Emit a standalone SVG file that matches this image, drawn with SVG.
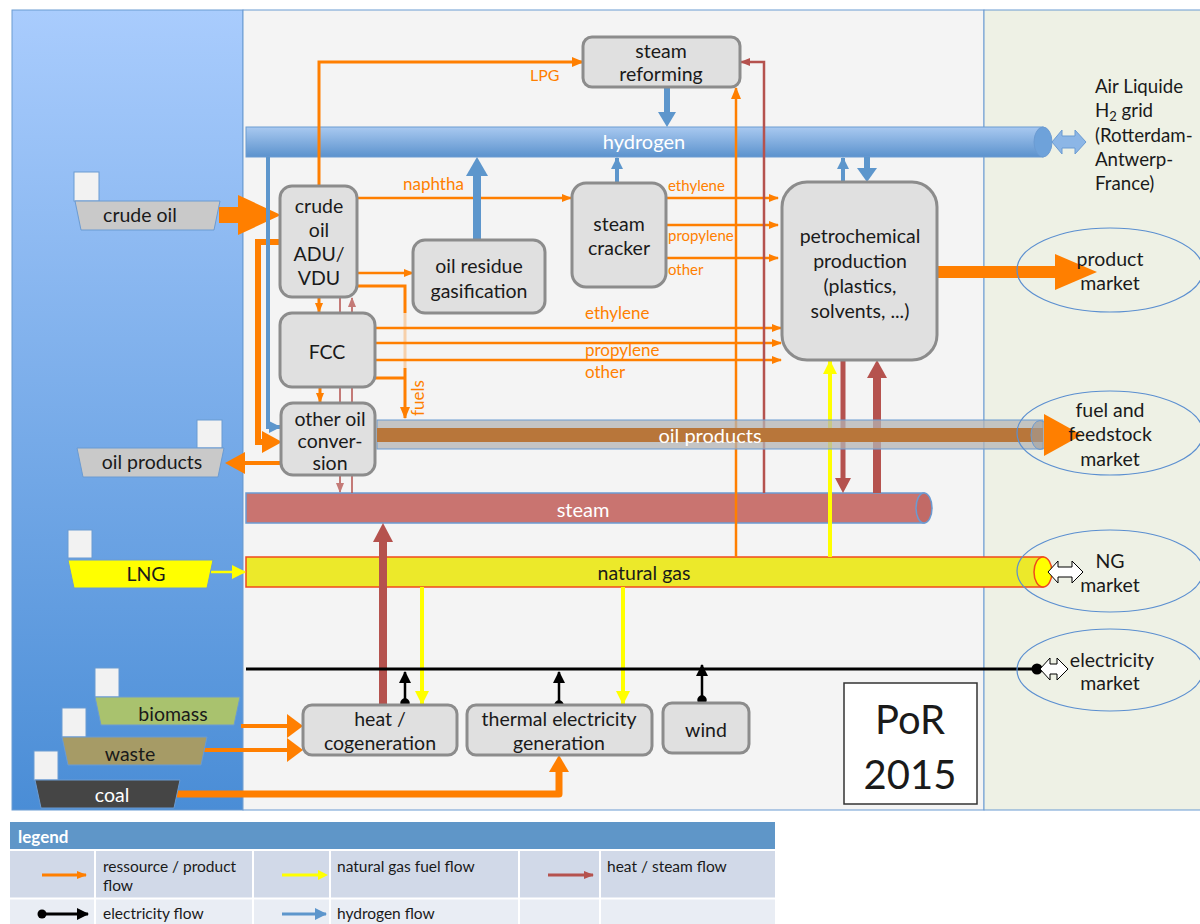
<svg xmlns="http://www.w3.org/2000/svg" width="1200" height="924" viewBox="0 0 1200 924">
<defs>
<linearGradient id="gLeft" x1="0" y1="0" x2="0" y2="1"><stop offset="0" stop-color="#a9ccfd"/><stop offset="1" stop-color="#4a8dd6"/></linearGradient>
<linearGradient id="gH2" x1="0" y1="0" x2="0" y2="1"><stop offset="0" stop-color="#a9c9f0"/><stop offset="1" stop-color="#5b92cd"/></linearGradient>
<marker id="aO" markerUnits="userSpaceOnUse" markerWidth="12" markerHeight="10" viewBox="0 0 12 10" refX="11" refY="5" orient="auto"><path d="M0,0 L12,5 L0,10 z" fill="#ff7f00"/></marker>
<marker id="aOs" markerUnits="userSpaceOnUse" markerWidth="10" markerHeight="8" viewBox="0 0 10 8" refX="9" refY="4" orient="auto"><path d="M0,0 L10,4 L0,8 z" fill="#ff7f00"/></marker>
<marker id="aY" markerUnits="userSpaceOnUse" markerWidth="14" markerHeight="14" viewBox="0 0 14 14" refX="13" refY="7" orient="auto"><path d="M0,0 L14,7 L0,14 z" fill="#ffff00"/></marker>
<marker id="aR" markerUnits="userSpaceOnUse" markerWidth="10" markerHeight="8" viewBox="0 0 10 8" refX="9" refY="4" orient="auto"><path d="M0,0 L10,4 L0,8 z" fill="#b5524e"/></marker>
<marker id="aK" markerUnits="userSpaceOnUse" markerWidth="12" markerHeight="12" viewBox="0 0 12 12" refX="11" refY="6" orient="auto"><path d="M0,0 L12,6 L0,12 z" fill="#000"/></marker>
<marker id="aB" markerUnits="userSpaceOnUse" markerWidth="12" markerHeight="12" viewBox="0 0 12 12" refX="11" refY="6" orient="auto"><path d="M0,0 L12,6 L0,12 z" fill="#5d96cc"/></marker>
<style>
text{font-family:Lato,"Liberation Sans",sans-serif;fill:#1a1a1a;}
.n{font-size:19.5px;text-anchor:middle;}
.box{fill:#e0e0e0;stroke:#8c8c8c;stroke-width:3;}
.sq{fill:#f2f2f2;stroke:#6b9bd2;stroke-width:1;}
.ship{stroke:#6b9bd2;stroke-width:1;}
.o{stroke:#ff7f00;fill:none;}
.lab{fill:#ff7f00;font-size:17px;}
.labs{fill:#ff7f00;font-size:15px;}
.mk{fill:none;stroke:#5b8fd0;stroke-width:1.2;}
.wt{fill:#ffffff;text-anchor:middle;font-size:20px;}
.lg{font-size:15.5px;}
.big{font-size:40px;text-anchor:middle;}
.al{font-size:18.7px;}
</style>
</defs>
<!-- panels -->
<g id="panels">
<rect x="12" y="10" width="231" height="800" fill="url(#gLeft)" stroke="#6b9bd2"/>
<rect x="243" y="10" width="741" height="800" fill="#f4f4f4" stroke="#6b9bd2"/>
<rect x="984" y="10" width="230" height="800" fill="#eef1e5" stroke="#6b9bd2"/>
</g>
<!-- pipes -->
<g id="pipe-hydrogen">
<rect x="246" y="127" width="797" height="30" fill="url(#gH2)" stroke="#6b9bd2"/>
<ellipse cx="1043" cy="142" rx="9" ry="15" fill="#6ea2da" stroke="#6b9bd2"/>
<polygon points="1052,142 1062,130 1062,136 1075,136 1075,130 1086,142 1075,154 1075,148 1062,148 1062,154" fill="#8cb6e6" stroke="#6b9bd2"/>
<text x="644" y="149" class="wt">hydrogen</text>
</g>
<g id="pipe-steam">
<rect x="246" y="493" width="678" height="30" fill="#c97470" stroke="#6b9bd2" stroke-width="1.5"/>
<ellipse cx="924" cy="508" rx="8" ry="15" fill="#c26a66" stroke="#6b9bd2" stroke-width="1.5"/>
<text x="583" y="517" class="wt">steam</text>
</g>
<g id="pipe-natural-gas">
<rect x="246" y="557" width="797" height="30" fill="#ece92a" stroke="#f04a1c" stroke-width="1.5"/>
<ellipse cx="1043" cy="572" rx="9" ry="15" fill="#ffff00" stroke="#f04a1c" stroke-width="1.5"/>
<polygon points="1048,572 1058,561 1058,567 1072,567 1072,561 1083,572 1072,583 1072,577 1058,577 1058,583" fill="#ffffff" stroke="#000" stroke-width="1"/>
<text x="644" y="580" class="n">natural gas</text>
</g>
<!-- connectors -->
<g id="connectors">
<path class="o" stroke-width="3" d="M319,187 V62 H583" marker-end="url(#aO)"/>
<rect x="219" y="207" width="22" height="16" fill="#ff7f00"/>
<polygon points="238,195 281,215 238,235" fill="#ff7f00"/>
<path class="o" stroke-width="6" d="M280,242 H258 V442 H264"/>
<polygon points="262,431 282,442 262,453" fill="#ff7f00"/>
<path d="M268,157 V427 H280" stroke="#5d96cc" stroke-width="4" fill="none" marker-end="url(#aB)"/>
<path class="o" stroke-width="3" d="M319,297 V312" marker-end="url(#aOs)"/>
<path class="o" stroke-width="3" d="M320,387 V402" marker-end="url(#aOs)"/>
<path class="o" stroke-width="2.5" d="M357,198 H571" marker-end="url(#aOs)"/>
<path class="o" stroke-width="2.5" d="M357,273 H413" marker-end="url(#aOs)"/>
<path class="o" stroke-width="3" d="M357,286 H405 V313"/>
<path class="o" stroke-width="3" d="M405,313 V368" opacity="0.3"/>
<path class="o" stroke-width="3" d="M405,368 V418" marker-end="url(#aO)"/>
<path class="o" stroke-width="3" d="M375,378 H405"/>
<path class="o" stroke-width="2.5" d="M375,328 H781" marker-end="url(#aOs)"/>
<path class="o" stroke-width="2.5" d="M375,343 H781" marker-end="url(#aOs)"/>
<path class="o" stroke-width="2.5" d="M375,360 H781" marker-end="url(#aOs)"/>
<path class="o" stroke-width="2.5" d="M666,198 H778" marker-end="url(#aOs)"/>
<path class="o" stroke-width="2.5" d="M660,225 H778" marker-end="url(#aOs)"/>
<path class="o" stroke-width="2.5" d="M666,258 H778" marker-end="url(#aOs)"/>
<path class="o" stroke-width="2.5" d="M736,557 V88" marker-end="url(#aO)"/>
<path d="M764,493 V62 H741" stroke="#b5524e" stroke-width="2.5" fill="none" marker-end="url(#aR)"/>
<path d="M667,88 V114" stroke="#5d96cc" stroke-width="6" fill="none"/>
<polygon points="658,112 676,112 667,127" fill="#5d96cc"/>
<rect x="473" y="172" width="8" height="68" fill="#5d96cc"/>
<polygon points="466,176 488,176 477,157" fill="#5d96cc"/>
<path d="M617,183 V158" stroke="#5d96cc" stroke-width="4" fill="none" marker-end="url(#aB)"/>
<path d="M843,182 V158" stroke="#5d96cc" stroke-width="4" fill="none" marker-end="url(#aB)"/>
<path d="M867,157 V170" stroke="#5d96cc" stroke-width="6" fill="none"/>
<polygon points="857,168 877,168 867,182" fill="#5d96cc"/>
<rect x="937" y="266" width="120" height="12" fill="#ff7f00"/>
<polygon points="1055,254 1097,272 1055,290" fill="#ff7f00"/>
<path d="M830,557 V361" stroke="#ffff00" stroke-width="4" fill="none" marker-end="url(#aY)"/>
<path d="M843,361 V480" stroke="#b5524e" stroke-width="5" fill="none"/>
<polygon points="835,478 851,478 843,493" fill="#b5524e"/>
<path d="M877,493 V375" stroke="#b5524e" stroke-width="8" fill="none"/>
<polygon points="867,378 887,378 877,360" fill="#b5524e"/>
<g opacity="0.75">
<path d="M340,298 V492" stroke="#b5524e" stroke-width="2" fill="none" marker-end="url(#aR)"/>
<path d="M352,493 V298" stroke="#b5524e" stroke-width="2" fill="none" marker-end="url(#aR)"/>
</g>
<g fill="#b5524e" stroke="#b5524e" stroke-width="2">
<circle cx="355" cy="370" r="3.5"/><path d="M355,370 H368"/>
<circle cx="340" cy="411" r="3.5"/><path d="M340,411 H329"/>
<circle cx="354" cy="463" r="3.5"/><path d="M354,463 H367"/>
</g>
<path class="o" stroke-width="4" d="M281,463 H238"/>
<polygon points="245,452 225,463 245,474" fill="#ff7f00"/>
<path d="M211,572 H245" stroke="#ffff00" stroke-width="2.5" fill="none" marker-end="url(#aY)"/>
<path d="M383,705 V540" stroke="#b5524e" stroke-width="8" fill="none"/>
<polygon points="373,542 393,542 383,523" fill="#b5524e"/>
<path d="M422,587 V704" stroke="#ffff00" stroke-width="4" fill="none" marker-end="url(#aY)"/>
<path d="M623,587 V704" stroke="#ffff00" stroke-width="4" fill="none" marker-end="url(#aY)"/>
<path d="M246,669 H1037" stroke="#000" stroke-width="3" fill="none"/>
<circle cx="1037" cy="669" r="5.5" fill="#000"/>
<polygon points="1040,669 1050,658 1050,664 1057,664 1057,658 1068,669 1057,680 1057,674 1050,674 1050,680" fill="#ffffff" stroke="#000" stroke-width="1"/>
<g stroke="#000" stroke-width="2.5" fill="#000">
<path d="M405,703 V672" marker-end="url(#aK)"/><circle cx="405" cy="703" r="3.5"/>
<path d="M559,705 V672" marker-end="url(#aK)"/><circle cx="559" cy="705" r="3.5"/>
<path d="M702,700 V665" marker-end="url(#aK)"/><circle cx="702" cy="700" r="3.5"/>
</g>
<path class="o" stroke-width="4" d="M241,726 H290"/>
<polygon points="287,714 303,726 287,738" fill="#ff7f00"/>
<path class="o" stroke-width="4" d="M204,750 H290"/>
<polygon points="287,738 303,750 287,762" fill="#ff7f00"/>
<path class="o" stroke-width="7" stroke-linejoin="round" d="M177,794 H559 V770"/>
<polygon points="549,772 569,772 559,755" fill="#ff7f00"/>
</g>
<g id="pipe-oil-products">
<rect x="377" y="420" width="666" height="29" fill="#b4b4b4" fill-opacity="0.75" stroke="#6b9bd2"/>
<rect x="377" y="428" width="666" height="14" fill="#b8763a"/>
<ellipse cx="1040" cy="435" rx="9" ry="14.5" fill="#a0a0a0" fill-opacity="0.6" stroke="#6b9bd2"/>
<polygon points="1044,414 1082,435 1044,456" fill="#ff7f00"/>
<text x="710" y="443" class="wt">oil products</text>
</g>
<!-- nodes -->
<g id="node-steam-reforming"><rect x="583" y="37" width="157" height="50" rx="9" class="box"/><text x="661" y="58" class="n">steam</text><text x="661" y="81" class="n">reforming</text></g>
<g id="node-crude-adu"><rect x="280" y="186" width="77" height="111" rx="12" class="box"/><text x="319" y="213" class="n">crude</text><text x="319" y="237" class="n">oil</text><text x="319" y="261" class="n">ADU/</text><text x="319" y="285" class="n">VDU</text></g>
<g id="node-fcc"><rect x="280" y="313" width="95" height="74" rx="12" class="box"/><text x="327" y="359" class="n">FCC</text></g>
<g id="node-other-oil"><rect x="281" y="403" width="94" height="72" rx="12" class="box"/><text x="330" y="426" class="n">other oil</text><text x="330" y="448" class="n">conver-</text><text x="330" y="470" class="n">sion</text></g>
<g id="node-gasification"><rect x="413" y="240" width="132" height="73" rx="12" class="box"/><text x="479" y="273" class="n">oil residue</text><text x="479" y="298" class="n">gasification</text></g>
<g id="node-steam-cracker"><rect x="572" y="183" width="94" height="104" rx="14" class="box"/><text x="619" y="231" class="n">steam</text><text x="619" y="255" class="n">cracker</text></g>
<g id="node-petrochemical"><rect x="782" y="182" width="155" height="178" rx="25" class="box"/><text x="860" y="243" class="n">petrochemical</text><text x="860" y="268" class="n">production</text><text x="860" y="293" class="n">(plastics,</text><text x="860" y="318" class="n">solvents, ...)</text></g>
<g id="node-heat"><rect x="303" y="705" width="154" height="50" rx="9" class="box"/><text x="380" y="726" class="n">heat /</text><text x="380" y="750" class="n">cogeneration</text></g>
<g id="node-thermal"><rect x="467" y="705" width="185" height="50" rx="9" class="box"/><text x="559" y="726" class="n">thermal electricity</text><text x="559" y="750" class="n">generation</text></g>
<g id="node-wind"><rect x="663" y="703" width="86" height="50" rx="9" class="box"/><text x="706" y="737" class="n">wind</text></g>
<!-- flow labels -->
<g id="labels">
<text x="530" y="81" class="labs" style="font-size:16px">LPG</text>
<text x="403" y="190" class="lab">naphtha</text>
<text x="668" y="191" class="labs">ethylene</text>
<text x="668" y="241" class="labs">propylene</text>
<text x="668" y="275" class="labs">other</text>
<text x="585" y="319" class="lab">ethylene</text>
<text x="585" y="356" class="lab">propylene</text>
<text x="585" y="378" class="lab">other</text>
<text x="0" y="0" class="lab" transform="translate(424,416) rotate(-90)">fuels</text>
</g>
<!-- ships -->
<g id="ship-crude-oil"><rect x="74" y="172" width="25" height="29" class="sq"/><polygon points="75,201 220,201 214,230 81,230" fill="#c9c9c9" class="ship"/><text x="140" y="222" class="n">crude oil</text></g>
<g id="ship-oil-products"><rect x="197" y="420" width="25" height="28" class="sq"/><polygon points="77,448 224,448 218,477 83,477" fill="#c9c9c9" class="ship"/><text x="152" y="469" class="n">oil products</text></g>
<g id="ship-lng"><rect x="68" y="530" width="24" height="28" class="sq"/><polygon points="68,560 213,560 207,588 74,588" fill="#ffff00" class="ship"/><text x="146" y="581" class="n">LNG</text></g>
<g id="ship-biomass"><rect x="95" y="668" width="24" height="29" class="sq"/><polygon points="95,697 240,697 234,725 101,725" fill="#a9c26e" class="ship"/><text x="173" y="721" class="n">biomass</text></g>
<g id="ship-waste"><rect x="62" y="708" width="24" height="29" class="sq"/><polygon points="62,737 207,737 201,765 68,765" fill="#a69b66" class="ship"/><text x="130" y="761" class="n">waste</text></g>
<g id="ship-coal"><rect x="34" y="751" width="24" height="29" class="sq"/><polygon points="35,780 180,780 174,808 41,808" fill="#454545" class="ship"/><text x="112" y="802" class="n" style="fill:#ffffff">coal</text></g>
<!-- markets -->
<g id="air-liquide"><text x="1095" y="93" class="al">Air Liquide</text><text x="1095" y="117" class="al">H<tspan style="font-size:13px" dy="4">2</tspan><tspan dy="-4"> grid</tspan></text><text x="1095" y="142" class="al">(Rotterdam-</text><text x="1095" y="166" class="al">Antwerp-</text><text x="1095" y="190" class="al">France)</text></g>
<g id="market-product"><ellipse cx="1110" cy="270" rx="93" ry="42" class="mk"/><text x="1110" y="266" class="n">product</text><text x="1110" y="290" class="n">market</text></g>
<g id="market-fuel"><ellipse cx="1110" cy="433" rx="93" ry="42" class="mk"/><text x="1110" y="417" class="n">fuel and</text><text x="1110" y="441" class="n">feedstock</text><text x="1110" y="466" class="n">market</text></g>
<g id="market-ng"><ellipse cx="1110" cy="571" rx="93" ry="41" class="mk"/><text x="1110" y="568" class="n">NG</text><text x="1110" y="592" class="n">market</text></g>
<g id="market-electricity"><ellipse cx="1110" cy="670" rx="93" ry="41" class="mk"/><text x="1112" y="667" class="n">electricity</text><text x="1110" y="690" class="n">market</text></g>
<g id="por-2015"><rect x="844" y="683" width="133" height="121" fill="#ffffff" stroke="#333" stroke-width="1.5"/><text x="910" y="734" class="big">PoR</text><text x="910" y="789" class="big">2015</text></g>
<!-- legend -->
<g id="legend">
<rect x="10" y="822" width="765" height="27" fill="#5f96c8"/>
<text x="18" y="843" style="font-size:17px;font-weight:bold;fill:#ffffff">legend</text>
<rect x="10" y="851" width="765" height="47" fill="#d1d9e8"/>
<rect x="10" y="899" width="765" height="25" fill="#e9edf4"/>
<g stroke="#ffffff" stroke-width="2"><path d="M95,851 V924 M253,851 V924 M330,851 V924 M519,851 V924 M600,851 V924 M10,898.5 H775"/></g>
<text x="103" y="872" class="lg">ressource / product</text><text x="103" y="891" class="lg">flow</text>
<text x="337" y="872" class="lg">natural gas fuel flow</text>
<text x="607" y="872" class="lg">heat / steam flow</text>
<text x="103" y="919" class="lg">electricity flow</text>
<text x="337" y="919" class="lg">hydrogen flow</text>
<path d="M42,875 H86" stroke="#ff7f00" stroke-width="3" marker-end="url(#aOs)"/>
<path d="M282,875 H320" stroke="#ffff00" stroke-width="3"/>
<polygon points="318,870 328,875 318,880" fill="#ffff00"/>
<path d="M548,875 H593" stroke="#b5524e" stroke-width="3" marker-end="url(#aR)"/>
<path d="M42,914 H88" stroke="#000" stroke-width="3" marker-end="url(#aK)"/><circle cx="42" cy="914" r="4.5" fill="#000"/>
<path d="M282,914 H326" stroke="#5d96cc" stroke-width="3" marker-end="url(#aB)"/>
</g>
</svg>
